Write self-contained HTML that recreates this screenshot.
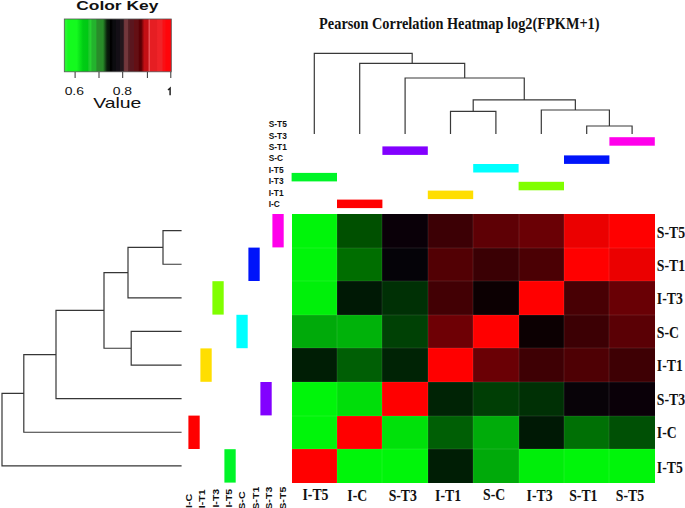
<!DOCTYPE html>
<html><head><meta charset="utf-8"><style>
html,body{margin:0;padding:0;background:#fff;width:685px;height:508px;overflow:hidden}
svg{display:block}
text{fill:#111}
</style></head><body>
<svg width="685" height="508" viewBox="0 0 685 508"><g shape-rendering="crispEdges"><rect x="292" y="214" width="45" height="34" fill="rgb(0,245,10)"/><rect x="337" y="214" width="45" height="34" fill="rgb(0,80,0)"/><rect x="382" y="214" width="46" height="34" fill="rgb(10,0,8)"/><rect x="428" y="214" width="45" height="34" fill="rgb(60,0,5)"/><rect x="473" y="214" width="46" height="34" fill="rgb(94,0,5)"/><rect x="519" y="214" width="45" height="34" fill="rgb(106,0,5)"/><rect x="564" y="214" width="45" height="34" fill="rgb(235,0,0)"/><rect x="609" y="214" width="46" height="34" fill="rgb(255,0,0)"/><rect x="292" y="248" width="45" height="33" fill="rgb(0,245,10)"/><rect x="337" y="248" width="45" height="33" fill="rgb(0,110,0)"/><rect x="382" y="248" width="46" height="33" fill="rgb(5,3,8)"/><rect x="428" y="248" width="45" height="33" fill="rgb(82,0,4)"/><rect x="473" y="248" width="46" height="33" fill="rgb(58,0,4)"/><rect x="519" y="248" width="45" height="33" fill="rgb(75,0,4)"/><rect x="564" y="248" width="45" height="33" fill="rgb(255,0,0)"/><rect x="609" y="248" width="46" height="33" fill="rgb(235,0,0)"/><rect x="292" y="281" width="45" height="34" fill="rgb(0,240,10)"/><rect x="337" y="281" width="45" height="34" fill="rgb(0,25,5)"/><rect x="382" y="281" width="46" height="34" fill="rgb(0,48,5)"/><rect x="428" y="281" width="45" height="34" fill="rgb(66,0,4)"/><rect x="473" y="281" width="46" height="34" fill="rgb(12,0,2)"/><rect x="519" y="281" width="45" height="34" fill="rgb(255,0,0)"/><rect x="564" y="281" width="45" height="34" fill="rgb(72,0,4)"/><rect x="609" y="281" width="46" height="34" fill="rgb(105,0,5)"/><rect x="292" y="315" width="45" height="33" fill="rgb(0,170,10)"/><rect x="337" y="315" width="45" height="33" fill="rgb(0,178,10)"/><rect x="382" y="315" width="46" height="33" fill="rgb(0,65,5)"/><rect x="428" y="315" width="45" height="33" fill="rgb(110,0,5)"/><rect x="473" y="315" width="46" height="33" fill="rgb(255,0,0)"/><rect x="519" y="315" width="45" height="33" fill="rgb(12,0,2)"/><rect x="564" y="315" width="45" height="33" fill="rgb(60,0,4)"/><rect x="609" y="315" width="46" height="33" fill="rgb(90,0,5)"/><rect x="292" y="348" width="45" height="34" fill="rgb(0,30,5)"/><rect x="337" y="348" width="45" height="34" fill="rgb(0,95,5)"/><rect x="382" y="348" width="46" height="34" fill="rgb(0,35,5)"/><rect x="428" y="348" width="45" height="34" fill="rgb(255,0,0)"/><rect x="473" y="348" width="46" height="34" fill="rgb(106,0,5)"/><rect x="519" y="348" width="45" height="34" fill="rgb(62,0,4)"/><rect x="564" y="348" width="45" height="34" fill="rgb(78,0,4)"/><rect x="609" y="348" width="46" height="34" fill="rgb(62,0,4)"/><rect x="292" y="382" width="45" height="34" fill="rgb(0,245,10)"/><rect x="337" y="382" width="45" height="34" fill="rgb(0,222,10)"/><rect x="382" y="382" width="46" height="34" fill="rgb(255,0,0)"/><rect x="428" y="382" width="45" height="34" fill="rgb(0,35,5)"/><rect x="473" y="382" width="46" height="34" fill="rgb(0,62,5)"/><rect x="519" y="382" width="45" height="34" fill="rgb(0,48,5)"/><rect x="564" y="382" width="45" height="34" fill="rgb(8,3,8)"/><rect x="609" y="382" width="46" height="34" fill="rgb(10,0,8)"/><rect x="292" y="416" width="45" height="33" fill="rgb(0,245,10)"/><rect x="337" y="416" width="45" height="33" fill="rgb(255,0,0)"/><rect x="382" y="416" width="46" height="33" fill="rgb(0,225,10)"/><rect x="428" y="416" width="45" height="33" fill="rgb(0,95,5)"/><rect x="473" y="416" width="46" height="33" fill="rgb(0,172,10)"/><rect x="519" y="416" width="45" height="33" fill="rgb(0,25,5)"/><rect x="564" y="416" width="45" height="33" fill="rgb(0,112,5)"/><rect x="609" y="416" width="46" height="33" fill="rgb(0,80,5)"/><rect x="292" y="449" width="45" height="34" fill="rgb(255,0,0)"/><rect x="337" y="449" width="45" height="34" fill="rgb(0,245,10)"/><rect x="382" y="449" width="46" height="34" fill="rgb(0,245,10)"/><rect x="428" y="449" width="45" height="34" fill="rgb(0,30,5)"/><rect x="473" y="449" width="46" height="34" fill="rgb(0,170,10)"/><rect x="519" y="449" width="45" height="34" fill="rgb(0,238,10)"/><rect x="564" y="449" width="45" height="34" fill="rgb(0,245,10)"/><rect x="609" y="449" width="46" height="34" fill="rgb(0,245,10)"/></g><path d="M337.0 214V483M382.0 214V483M428.0 214V483M473.0 214V483M519.0 214V483M564.0 214V483M609.0 214V483M292 248.0H655M292 281.0H655M292 315.0H655M292 348.0H655M292 382.0H655M292 416.0H655M292 449.0H655" stroke="#fff" stroke-opacity="0.10" stroke-width="1"/><rect x="609.40" y="137.20" width="45.40" height="8.5" fill="rgb(255,0,235)"/><rect x="382.40" y="146.40" width="45.40" height="8.5" fill="rgb(130,0,255)"/><rect x="564.00" y="155.40" width="45.40" height="8.5" fill="rgb(0,20,250)"/><rect x="473.20" y="164.00" width="45.40" height="8.5" fill="rgb(0,255,255)"/><rect x="291.60" y="172.90" width="45.40" height="8.5" fill="rgb(0,245,40)"/><rect x="518.60" y="181.80" width="45.40" height="8.5" fill="rgb(128,255,0)"/><rect x="427.80" y="190.60" width="45.40" height="8.5" fill="rgb(255,222,0)"/><rect x="337.00" y="199.60" width="45.40" height="8.5" fill="rgb(255,0,0)"/><rect x="272.40" y="214.00" width="11.3" height="33.40" fill="rgb(255,0,235)"/><rect x="248.40" y="247.60" width="11.3" height="33.40" fill="rgb(0,20,250)"/><rect x="212.40" y="281.20" width="11.3" height="33.40" fill="rgb(128,255,0)"/><rect x="236.40" y="314.80" width="11.3" height="33.40" fill="rgb(0,255,255)"/><rect x="200.40" y="348.40" width="11.3" height="33.40" fill="rgb(255,222,0)"/><rect x="260.40" y="382.00" width="11.3" height="33.40" fill="rgb(130,0,255)"/><rect x="188.40" y="415.60" width="11.3" height="33.40" fill="rgb(255,0,0)"/><rect x="224.40" y="449.20" width="11.3" height="33.40" fill="rgb(0,245,40)"/><path d="M586.70 134.00V126.00H632.10V134.00M541.30 134.00V110.00H609.40V126.00M450.50 134.00V111.40H495.90V134.00M473.20 111.40V99.80H575.35V110.00M405.10 134.00V78.00H524.27V99.80M359.70 134.00V63.40H464.69V78.00M314.30 134.00V53.40H412.19V63.40" fill="none" stroke="#383838" stroke-width="1.2"/><path d="M181.60 230.65H163.00V264.25H181.60M163.00 247.45H128.00V297.85H181.60M181.60 331.45H131.20V365.05H181.60M128.00 272.65H104.00V348.25H131.20M104.00 310.45H56.00V398.65H181.60M56.00 354.55H23.80V432.25H181.60M23.80 393.40H2.00V465.85H181.60" fill="none" stroke="#363636" stroke-width="1.2"/><defs><linearGradient id="kg" x1="0" x2="1" y1="0" y2="0"><stop offset="0.0000" stop-color="rgb(40,245,50)"/><stop offset="0.0252" stop-color="rgb(40,245,50)"/><stop offset="0.0327" stop-color="rgb(20,250,30)"/><stop offset="0.1159" stop-color="rgb(20,250,30)"/><stop offset="0.1748" stop-color="rgb(0,205,20)"/><stop offset="0.2215" stop-color="rgb(0,200,20)"/><stop offset="0.2271" stop-color="rgb(25,200,40)"/><stop offset="0.2374" stop-color="rgb(35,205,45)"/><stop offset="0.2495" stop-color="rgb(40,210,50)"/><stop offset="0.2570" stop-color="rgb(35,180,45)"/><stop offset="0.2963" stop-color="rgb(35,178,45)"/><stop offset="0.3037" stop-color="rgb(40,140,42)"/><stop offset="0.3617" stop-color="rgb(40,140,40)"/><stop offset="0.3991" stop-color="rgb(10,30,12)"/><stop offset="0.4224" stop-color="rgb(5,18,8)"/><stop offset="0.4318" stop-color="rgb(0,0,0)"/><stop offset="0.4458" stop-color="rgb(2,2,3)"/><stop offset="0.4533" stop-color="rgb(12,12,15)"/><stop offset="0.4785" stop-color="rgb(12,12,15)"/><stop offset="0.4850" stop-color="rgb(20,15,22)"/><stop offset="0.5168" stop-color="rgb(20,15,22)"/><stop offset="0.5234" stop-color="rgb(35,22,28)"/><stop offset="0.5505" stop-color="rgb(35,22,28)"/><stop offset="0.5636" stop-color="rgb(115,55,60)"/><stop offset="0.5935" stop-color="rgb(115,55,60)"/><stop offset="0.6009" stop-color="rgb(85,30,35)"/><stop offset="0.6093" stop-color="rgb(85,30,35)"/><stop offset="0.6159" stop-color="rgb(90,22,30)"/><stop offset="0.6477" stop-color="rgb(90,22,30)"/><stop offset="0.6542" stop-color="rgb(100,15,20)"/><stop offset="0.6916" stop-color="rgb(100,15,20)"/><stop offset="0.6981" stop-color="rgb(90,0,5)"/><stop offset="0.7187" stop-color="rgb(90,0,5)"/><stop offset="0.7477" stop-color="rgb(195,15,20)"/><stop offset="0.7841" stop-color="rgb(195,15,20)"/><stop offset="0.7897" stop-color="rgb(235,80,85)"/><stop offset="0.7972" stop-color="rgb(235,80,85)"/><stop offset="0.8037" stop-color="rgb(230,30,35)"/><stop offset="0.8664" stop-color="rgb(230,30,35)"/><stop offset="0.8720" stop-color="rgb(240,35,40)"/><stop offset="0.9150" stop-color="rgb(240,35,40)"/><stop offset="0.9206" stop-color="rgb(250,15,20)"/><stop offset="0.9411" stop-color="rgb(250,15,20)"/><stop offset="0.9486" stop-color="rgb(255,5,10)"/><stop offset="1.0000" stop-color="rgb(255,5,10)"/></linearGradient></defs>
<rect x="64.3" y="19.0" width="107" height="52.8" fill="url(#kg)" stroke="#555" stroke-width="0.8"/><path d="M75.1 72V78M99.0 72V78M122.7 72V78M147.4 72V78M170.8 72V78" stroke="#333" stroke-width="1"/><path d="M170.1 95.3V88.1L168.0 90.0" fill="none" stroke="#222" stroke-width="1.5" stroke-linejoin="miter"/><text transform="translate(117.30 10.40) scale(1.450 1)" font-family="Liberation Sans" font-weight="bold" font-size="12.00" text-anchor="middle">Color Key</text><text transform="translate(74.30 95.40) scale(1.340 1)" font-family="Liberation Sans" font-weight="normal" font-size="10.40" text-anchor="middle">0.6</text><text transform="translate(122.40 95.40) scale(1.340 1)" font-family="Liberation Sans" font-weight="normal" font-size="10.40" text-anchor="middle">0.8</text><text transform="translate(117.30 108.00) scale(1.350 1)" font-family="Liberation Sans" font-weight="normal" font-size="14.40" text-anchor="middle">Value</text><text transform="translate(459.30 28.85) scale(0.885 1)" font-family="Liberation Serif" font-weight="bold" font-size="16.20" text-anchor="middle">Pearson Correlation Heatmap log2(FPKM+1)</text><text transform="translate(268.70 127.20) scale(1.020 1)" font-family="Liberation Sans" font-weight="bold" font-size="8.20" text-anchor="start">S-T5</text><text transform="translate(268.70 138.63) scale(1.020 1)" font-family="Liberation Sans" font-weight="bold" font-size="8.20" text-anchor="start">S-T3</text><text transform="translate(268.70 150.06) scale(1.020 1)" font-family="Liberation Sans" font-weight="bold" font-size="8.20" text-anchor="start">S-T1</text><text transform="translate(268.70 161.49) scale(1.020 1)" font-family="Liberation Sans" font-weight="bold" font-size="8.20" text-anchor="start">S-C</text><text transform="translate(268.70 172.92) scale(1.020 1)" font-family="Liberation Sans" font-weight="bold" font-size="8.20" text-anchor="start">I-T5</text><text transform="translate(268.70 184.35) scale(1.020 1)" font-family="Liberation Sans" font-weight="bold" font-size="8.20" text-anchor="start">I-T3</text><text transform="translate(268.70 195.78) scale(1.020 1)" font-family="Liberation Sans" font-weight="bold" font-size="8.20" text-anchor="start">I-T1</text><text transform="translate(268.70 207.21) scale(1.020 1)" font-family="Liberation Sans" font-weight="bold" font-size="8.20" text-anchor="start">I-C</text><text transform="translate(191.70 507.90) rotate(-90) scale(1.180 1)" font-family="Liberation Sans" font-weight="bold" font-size="9.00" text-anchor="start">I-C</text><text transform="translate(205.13 508.20) rotate(-90) scale(1.180 1)" font-family="Liberation Sans" font-weight="bold" font-size="9.00" text-anchor="start">I-T1</text><text transform="translate(218.56 507.60) rotate(-90) scale(1.180 1)" font-family="Liberation Sans" font-weight="bold" font-size="9.00" text-anchor="start">I-T3</text><text transform="translate(231.99 507.60) rotate(-90) scale(1.180 1)" font-family="Liberation Sans" font-weight="bold" font-size="9.00" text-anchor="start">I-T5</text><text transform="translate(245.42 509.70) rotate(-90) scale(1.180 1)" font-family="Liberation Sans" font-weight="bold" font-size="9.00" text-anchor="start">S-C</text><text transform="translate(258.85 509.70) rotate(-90) scale(1.180 1)" font-family="Liberation Sans" font-weight="bold" font-size="9.00" text-anchor="start">S-T1</text><text transform="translate(272.28 509.70) rotate(-90) scale(1.180 1)" font-family="Liberation Sans" font-weight="bold" font-size="9.00" text-anchor="start">S-T3</text><text transform="translate(285.71 509.70) rotate(-90) scale(1.180 1)" font-family="Liberation Sans" font-weight="bold" font-size="9.00" text-anchor="start">S-T5</text><text transform="translate(315.50 499.80) scale(0.860 1)" font-family="Liberation Serif" font-weight="bold" font-size="16.00" text-anchor="middle">I-T5</text><text transform="translate(357.30 500.90) scale(0.860 1)" font-family="Liberation Serif" font-weight="bold" font-size="16.00" text-anchor="middle">I-C</text><text transform="translate(402.77 500.90) scale(0.860 1)" font-family="Liberation Serif" font-weight="bold" font-size="16.00" text-anchor="middle">S-T3</text><text transform="translate(448.02 500.90) scale(0.860 1)" font-family="Liberation Serif" font-weight="bold" font-size="16.00" text-anchor="middle">I-T1</text><text transform="translate(494.10 499.80) scale(0.860 1)" font-family="Liberation Serif" font-weight="bold" font-size="16.00" text-anchor="middle">S-C</text><text transform="translate(539.60 500.90) scale(0.860 1)" font-family="Liberation Serif" font-weight="bold" font-size="16.00" text-anchor="middle">I-T3</text><text transform="translate(583.35 501.30) scale(0.860 1)" font-family="Liberation Serif" font-weight="bold" font-size="16.00" text-anchor="middle">S-T1</text><text transform="translate(629.98 500.60) scale(0.860 1)" font-family="Liberation Serif" font-weight="bold" font-size="16.00" text-anchor="middle">S-T5</text><text transform="translate(656.80 238.00) scale(0.860 1)" font-family="Liberation Serif" font-weight="bold" font-size="16.00" text-anchor="start">S-T5</text><text transform="translate(656.80 270.60) scale(0.860 1)" font-family="Liberation Serif" font-weight="bold" font-size="16.00" text-anchor="start">S-T1</text><text transform="translate(656.80 304.10) scale(0.860 1)" font-family="Liberation Serif" font-weight="bold" font-size="16.00" text-anchor="start">I-T3</text><text transform="translate(656.80 337.90) scale(0.860 1)" font-family="Liberation Serif" font-weight="bold" font-size="16.00" text-anchor="start">S-C</text><text transform="translate(656.80 371.00) scale(0.860 1)" font-family="Liberation Serif" font-weight="bold" font-size="16.00" text-anchor="start">I-T1</text><text transform="translate(656.80 404.50) scale(0.860 1)" font-family="Liberation Serif" font-weight="bold" font-size="16.00" text-anchor="start">S-T3</text><text transform="translate(656.80 437.50) scale(0.860 1)" font-family="Liberation Serif" font-weight="bold" font-size="16.00" text-anchor="start">I-C</text><text transform="translate(656.80 472.90) scale(0.860 1)" font-family="Liberation Serif" font-weight="bold" font-size="16.00" text-anchor="start">I-T5</text></svg>
</body></html>
